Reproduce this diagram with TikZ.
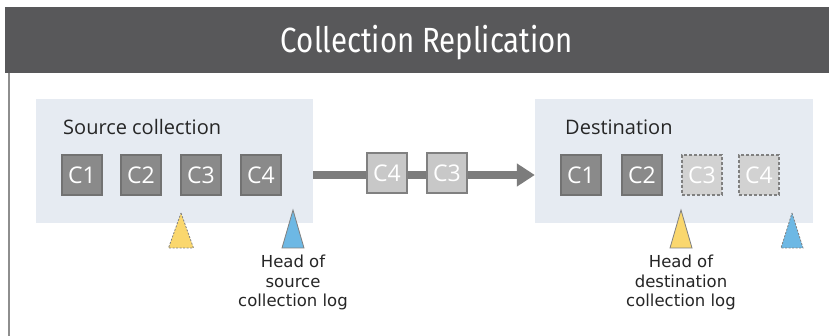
\documentclass[tikz,border=0pt]{standalone}
\usepackage{fontspec}
\setmainfont{Open Sans}
\newfontfamily\titlefont[FakeStretch=0.84]{Fira Sans}
\newfontfamily\notefont{DejaVu Sans}
\usetikzlibrary{arrows.meta}

\definecolor{barGrey}{HTML}{58585A}
\definecolor{frameGrey}{HTML}{8E8E8E}
\definecolor{panelFill}{HTML}{E6EBF2}
\definecolor{chunkDark}{HTML}{8A8A8A}
\definecolor{chunkEdge}{HTML}{727272}
\definecolor{chunkLight}{HTML}{C8C8C8}
\definecolor{chunkGhost}{HTML}{D2D2D2}
\definecolor{pipeGrey}{HTML}{7C7C7C}
\definecolor{headYellow}{HTML}{FAD76E}
\definecolor{headBlue}{HTML}{6DB8E4}
\definecolor{outlineGrey}{HTML}{808080}

\tikzset{
  panel/.style={fill=panelFill, draw=none, inner sep=0pt},
  paneltitle/.style={anchor=base west, inner sep=0pt, font=\fontsize{20}{22}\selectfont, text=black!85},
  chunk/.style={minimum size=40pt, inner sep=0pt, line width=1.2pt,
    font=\fontsize{23}{23}\selectfont, text=white},
  stored/.style={chunk, fill=chunkDark, draw=chunkEdge},
  transit/.style={chunk, fill=chunkLight, draw=outlineGrey},
  pending/.style={chunk, fill=chunkGhost, draw=outlineGrey, dashed, dash pattern=on 3pt off 2pt},
  pipe/.style={draw=pipeGrey, line width=8pt, -{Triangle[length=18pt, width=22pt]}},
  marker/.style={draw=outlineGrey, line width=0.8pt},
  markerdash/.style={marker, dash pattern=on 2pt off 1.5pt},
  note/.style={align=center, inner sep=0pt, font=\notefont\fontsize{16.5}{19.5}\selectfont, text=black!85}
}

\begin{document}
\begin{tikzpicture}[x=1pt, y=-1pt]
  \useasboundingbox[fill=white] (0,0) rectangle (829,336);

  % header bar and left rule
  \fill[barGrey] (5,7) rectangle (829,73);
  \node[text=white, font=\titlefont\fontsize{35}{35}\selectfont, inner sep=0pt] (title) at (427,43) {Collection Replication};
  \draw[frameGrey, line width=2.5pt] (9,73) -- (9,336);

  % the two collections
  \node[panel, minimum width=277pt, minimum height=124pt] (src) at (174.5,161) {};
  \node[panel, minimum width=278pt, minimum height=124pt] (dst) at (674,161) {};
  \node[paneltitle] (srclabel) at (63,135) {Source collection};
  \node[paneltitle] (dstlabel) at (565,135) {Destination};

  % source chunks
  \node[stored] (s1) at (82,175) {C1};
  \node[stored] (s2) at (141,175) {C2};
  \node[stored] (s3) at (201,175) {C3};
  \node[stored] (s4) at (261,175) {C4};

  % destination chunks
  \node[stored]  (d1) at (581,175) {C1};
  \node[stored]  (d2) at (642,175) {C2};
  \node[pending] (d3) at (702,175) {C3};
  \node[pending] (d4) at (759,175) {C4};

  % replication stream
  \draw[pipe] (src.east |- s4) -- (dst.west |- d1);
  \node[transit] (t4) at (387,173) {C4};
  \node[transit] (t3) at (447,173) {C3};

  % log heads
  \coordinate (hsy) at (181,213);
  \coordinate (hsb) at (293,210);
  \coordinate (hdy) at (681,210);
  \coordinate (hdb) at (792,213);
  \filldraw[fill=headYellow, markerdash] (hsy) -- ++(12.5,35) -- ++(-25,0) -- cycle;
  \filldraw[fill=headBlue, marker]       (hsb) -- ++(11,38) -- ++(-22,0) -- cycle;
  \filldraw[fill=headYellow, marker]     (hdy) -- ++(11,38) -- ++(-22,0) -- cycle;
  \filldraw[fill=headBlue, markerdash]   (hdb) -- ++(11,35) -- ++(-22,0) -- cycle;

  \node[note, anchor=north] (srcnote) at (293,255) {Head of\\source\\collection log};
  \node[note, anchor=north] (dstnote) at (681,255) {Head of\\destination\\collection log};
\end{tikzpicture}
\end{document}
